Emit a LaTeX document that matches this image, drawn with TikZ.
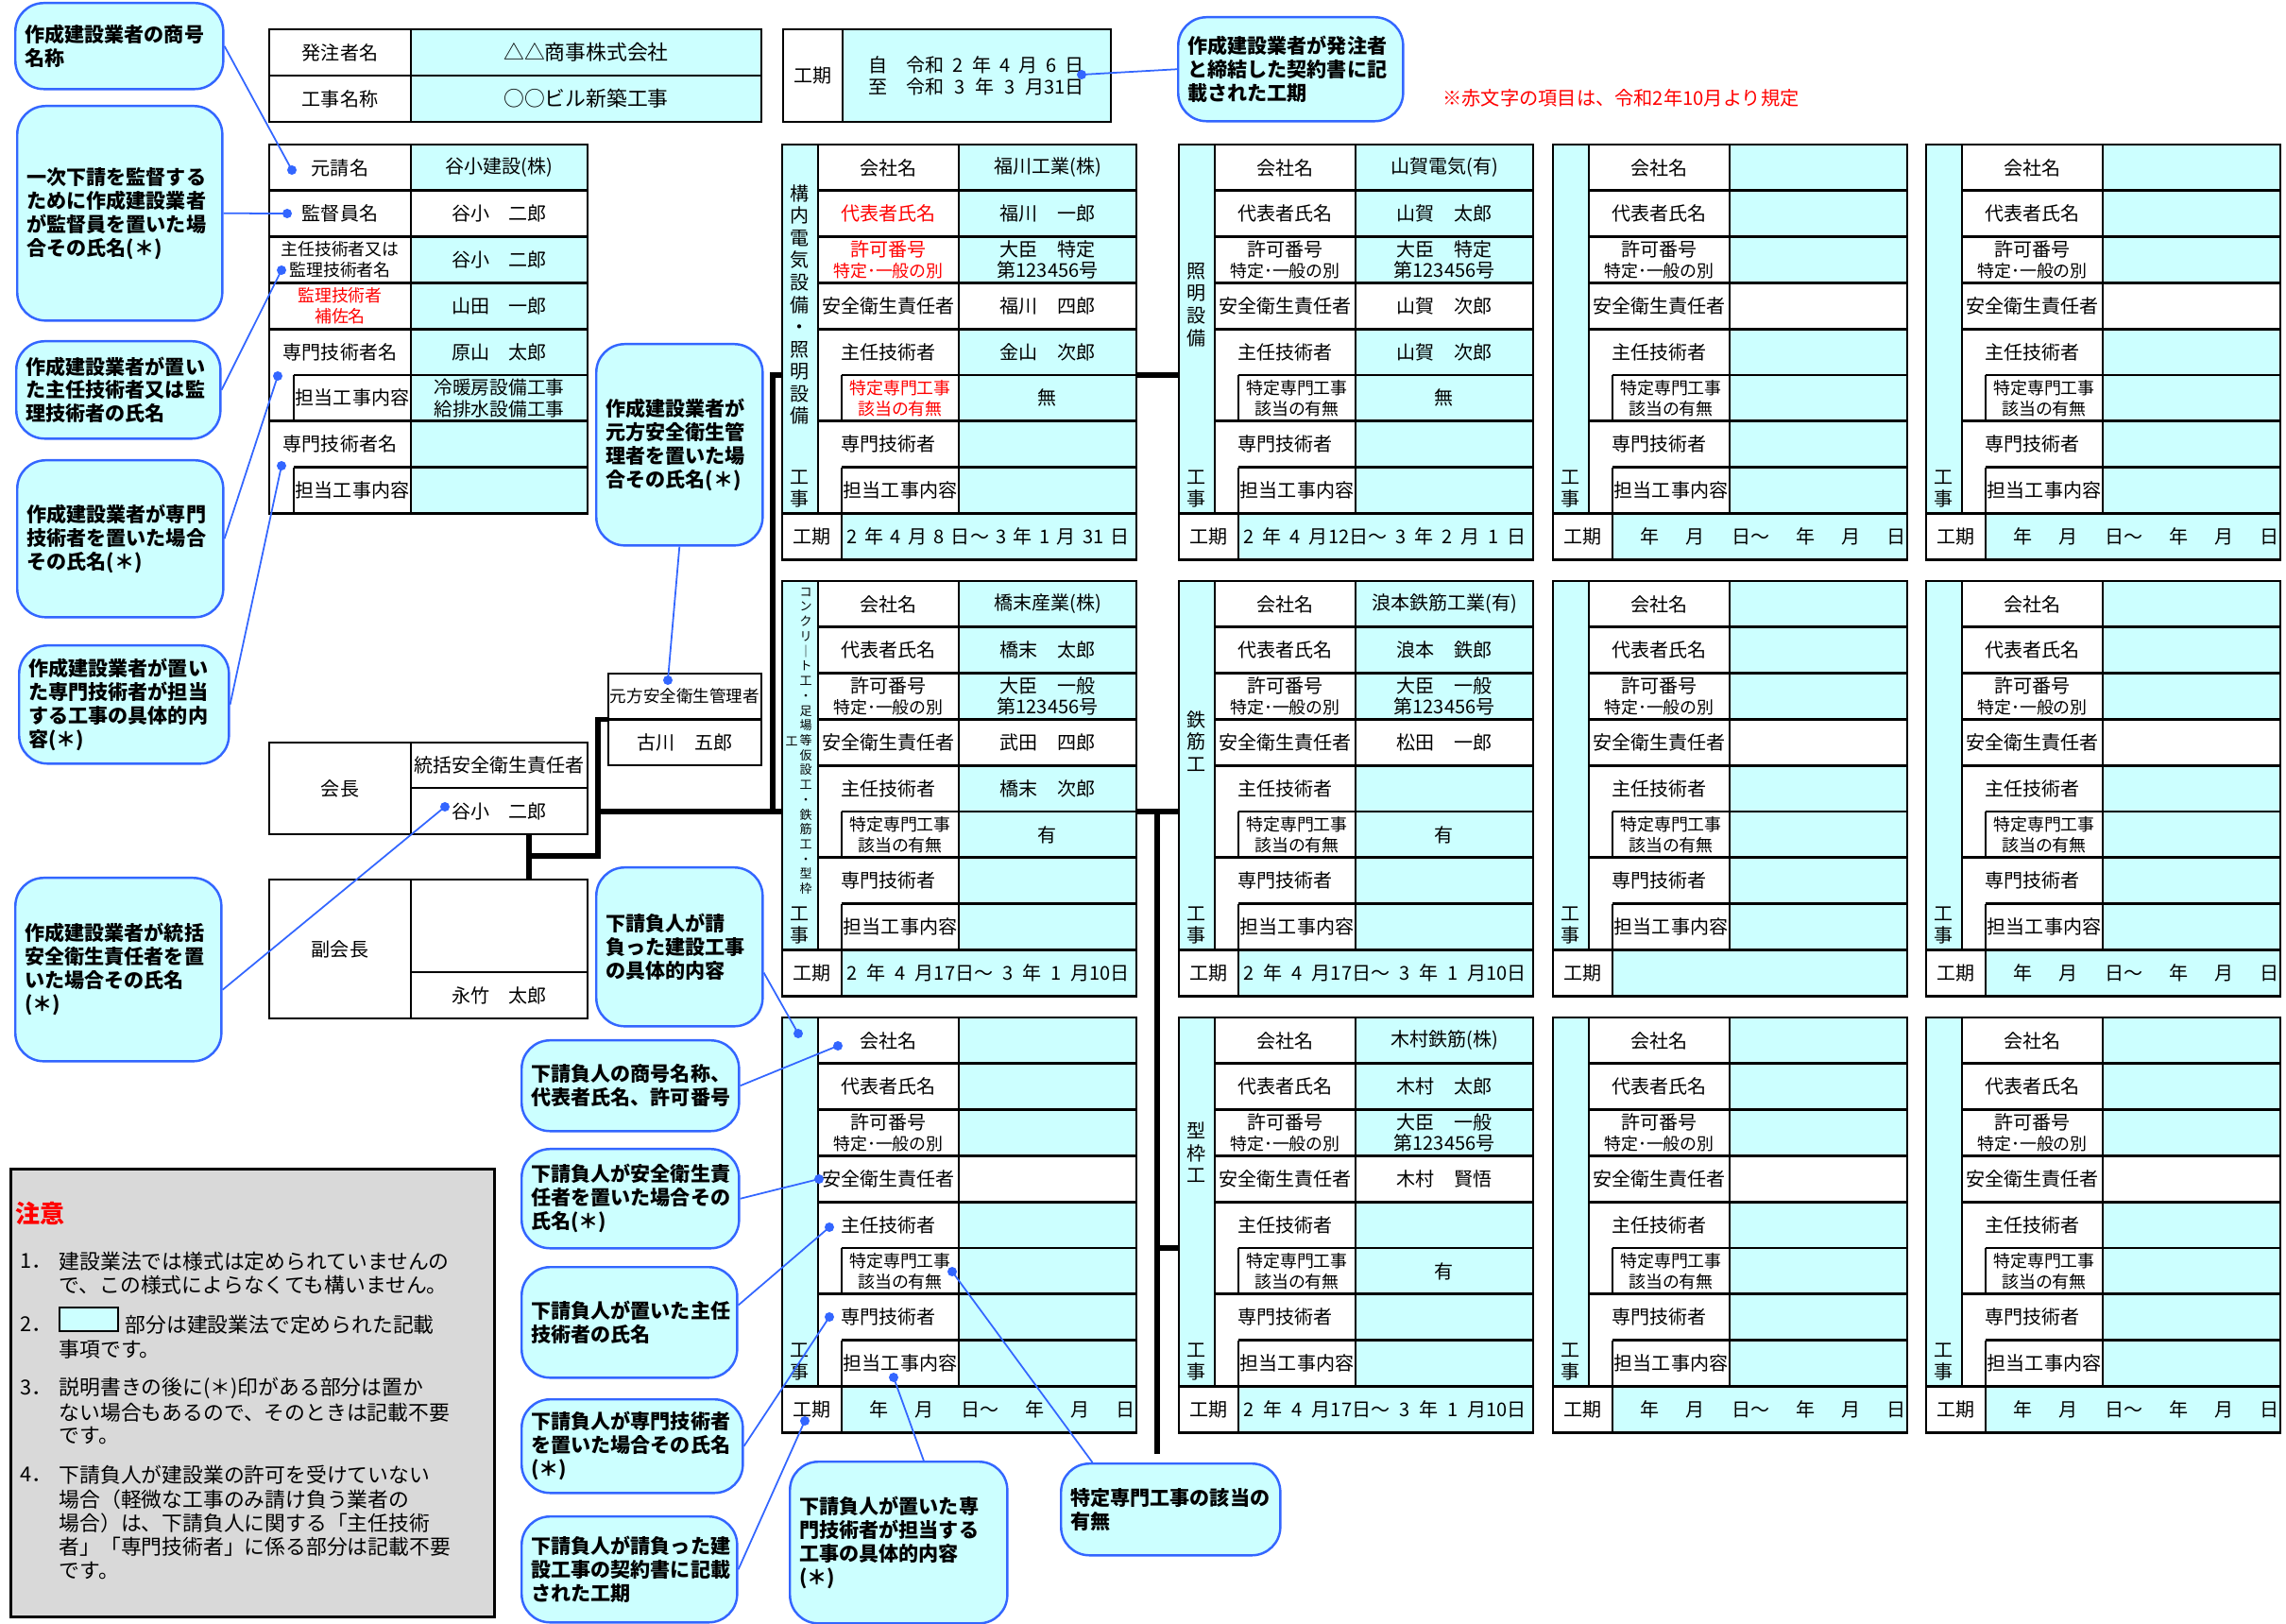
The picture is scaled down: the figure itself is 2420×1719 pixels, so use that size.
\documentclass[tikz,border=0pt]{standalone}
\usepackage{fontspec}
\setmainfont{Noto Sans CJK JP}
\usetikzlibrary{calc}
\definecolor{formCyan}{HTML}{CCFFFF}
\definecolor{formBlue}{HTML}{3366FF}
\definecolor{formRed}{HTML}{FF0000}
\definecolor{formGray}{HTML}{D9D9D9}

\begin{document}
\begin{tikzpicture}[x=0.01cm, y=-0.01cm,
    grid/.style={line width=0.8pt, black},
    conn/.style={line width=1.5pt, black},
    lab/.style={font=\fontsize{5.7}{6.2}\selectfont, inner sep=0pt, align=center},
    labsm/.style={font=\fontsize{5.1}{6.2}\selectfont, inner sep=0pt, align=center},
    val/.style={font=\fontsize{5.7}{6.2}\selectfont, inner sep=0pt, align=center},
    stripchar/.style={font=\fontsize{5.7}{6.7}\selectfont, inner sep=0pt, align=center},
    callout/.style={draw=formBlue, fill=formCyan, rounded corners=3mm, line width=0.7pt,
                    font=\bfseries\fontsize{6.0}{7.1}\selectfont, align=left,
                    anchor=north west, inner xsep=0.1cm, inner ysep=0pt},
    notetext/.style={font=\fontsize{6.2}{7.25}\selectfont, anchor=west, inner sep=0pt},
    lead/.style={formBlue, line width=0.5pt},
    dot/.style={circle, fill=formBlue, inner sep=0pt, minimum size=0.1cm}
  ]
  \useasboundingbox (0,0) rectangle (2420,1719);

  % client / project name
  \fill[formCyan] (435,31) rectangle (806,129);
  \draw[grid] (285,31) rectangle (806,129) (435,31) -- (435,129) (285,80) -- (806,80);
  \node[lab] (hl1) at (360,55.5) {発注者名};
  \node[lab] (hl2) at (360,104.5) {工事名称};
  \node[val, font=\fontsize{6.2}{7}\selectfont] (hv1) at (620.5,55.5) {△△商事株式会社};
  \node[val, font=\fontsize{6.2}{7}\selectfont] (hv2) at (620.5,104.5) {○○ビル新築工事};

  % contract period
  \fill[formCyan] (892,31) rectangle (1176,129);
  \draw[grid] (829,31) rectangle (1176,129) (892,31) -- (892,129);
  \node[lab] (kl) at (860.5,80) {工期};
  \node[lab, align=left, anchor=west, font=\fontsize{5.7}{6.5}\selectfont] (kv) at (919,80)
    {\makebox[2.28cm]{自\hspace{0.2cm}令和\hfill 2\hfill 年\hfill 4\hfill 月\hfill 6\hfill 日}\\
     \makebox[2.28cm]{至\hspace{0.2cm}令和\hfill 3\hfill 年\hfill 3\hfill 月31日}};

  \node[font=\fontsize{5.75}{7}\selectfont, text=formRed, inner sep=0pt] (rednote) at (1716,104)
    {※赤文字の項目は、令和2年10月より規定};

  % prime contractor table
  \begin{scope}[shift={(285,153)}]
    \fill[formCyan] (150,0) rectangle (337,48.8) (150,97.6) rectangle (337,390.4);
    \draw[grid] (0,0) rectangle (337,390.4) (150,0) -- (150,390.4)
      (0,48.8) -- (337,48.8) (0,97.6) -- (337,97.6) (0,146.4) -- (337,146.4)
      (0,195.2) -- (337,195.2) (26,244) -- (337,244) (0,292.8) -- (337,292.8)
      (26,341.6) -- (337,341.6) (26,244) -- (26,292.8) (26,341.6) -- (26,390.4);
    \node[lab] (mt-l1) at (75,24.4) {元請名};
    \node[lab] (mt-l2) at (75,73.2) {監督員名};
    \node[labsm] (mt-l3) at (75,122) {主任技術者又は\\監理技術者名};
    \node[labsm, text=formRed] (mt-l4) at (75,170.8) {監理技術者\\補佐名};
    \node[lab] (mt-l5) at (75,219.6) {専門技術者名};
    \node[lab] (mt-l6) at (88,268.4) {担当工事内容};
    \node[lab] (mt-l7) at (75,317.2) {専門技術者名};
    \node[lab] (mt-l8) at (88,366) {担当工事内容};
    \node[val] (mt-v1) at (243.5,24.4) {谷小建設(株)};
    \node[val] (mt-v2) at (243.5,73.2) {谷小　二郎};
    \node[val] (mt-v3) at (243.5,122) {谷小　二郎};
    \node[val] (mt-v4) at (243.5,170.8) {山田　一郎};
    \node[val] (mt-v5) at (243.5,219.6) {原山　太郎};
    \node[val, font=\fontsize{5.6}{6.5}\selectfont] (mt-v6) at (243.5,268.4) {冷暖房設備工事\\給排水設備工事};
  \end{scope}

  % subcontractor cards
  \foreach \nm/\cx/\cy/\lc in {s11/828/153/formRed, s12/1248/153/black, s13/1644/153/black, s14/2039/153/black,
      s21/828/615/black, s22/1248/615/black, s23/1644/615/black, s24/2039/615/black,
      s31/828/1077/black, s32/1248/1077/black, s33/1644/1077/black, s34/2039/1077/black}{
    \begin{scope}[shift={(\cx,\cy)}]
      \fill[formCyan] (0,0) rectangle (38,390.4);
      \fill[formCyan] (187,0) rectangle (375,146.4);
      \fill[formCyan] (187,195.2) rectangle (375,390.4);
      \fill[formCyan] (63,390.4) rectangle (375,439.2);
      \draw[grid] (0,0) rectangle (375,439.2)
        (38,0) -- (38,390.4) (187,0) -- (187,390.4) (63,390.4) -- (63,439.2)
        (38,48.8) -- (375,48.8) (38,97.6) -- (375,97.6) (38,146.4) -- (375,146.4)
        (38,195.2) -- (375,195.2) (63,244) -- (375,244) (38,292.8) -- (375,292.8)
        (63,341.6) -- (375,341.6) (0,390.4) -- (375,390.4)
        (63,244) -- (63,292.8) (63,341.6) -- (63,390.4);
      \node[lab] (\nm-l1) at (112.5,24.4) {会社名};
      \node[lab, text=\lc] (\nm-l2) at (112.5,73.2) {代表者氏名};
      \node[lab, text=\lc] (\nm-l3) at (112.5,122) {許可番号\\\fontsize{5.1}{6}\selectfont 特定･一般の別};
      \node[lab] (\nm-l4) at (112.5,170.8) {安全衛生責任者};
      \node[lab] (\nm-l5) at (112.5,219.6) {主任技術者};
      \node[labsm, text=\lc] (\nm-l6) at (125,268.4) {特定専門工事\\該当の有無};
      \node[lab] (\nm-l7) at (112.5,317.2) {専門技術者};
      \node[lab] (\nm-l8) at (125,366) {担当工事内容};
      \node[lab] (\nm-l9) at (31.5,414.8) {工期};
      \node[stripchar] (\nm-kj) at (19,364.5) {工\\事};
      \coordinate (\nm-w) at (0,244);
      \coordinate (\nm-e) at (375,244);
      \foreach \k/\ry in {1/24.4, 2/73.2, 3/122, 4/170.8, 5/219.6, 6/268.4}
        \coordinate (\nm-p\k) at (281,\ry);
      \coordinate (\nm-pk) at (68,414.8);
      \coordinate (\nm-pb) at (92,414.8);
      \coordinate (\nm-st) at (19,169.5);
    \end{scope}
  }

  % card entries
  \node[stripchar] (s11-sx) at (s11-st) {構\\内\\電\\気\\設\\備\\・\\照\\明\\設\\備};
  \node[val] (s11-v1) at (s11-p1) {福川工業(株)};
  \node[val] (s11-v2) at (s11-p2) {福川　一郎};
  \node[val] (s11-v3) at (s11-p3) {大臣　特定\\第123456号};
  \node[val] (s11-v4) at (s11-p4) {福川　四郎};
  \node[val] (s11-v5) at (s11-p5) {金山　次郎};
  \node[val] (s11-v6) at (s11-p6) {無};
  \node[lab, anchor=west] (s11-vk) at (s11-pk) {\makebox[2.99cm]{2\hfill 年\hfill 4\hfill 月\hfill 8\hfill 日～\hfill 3\hfill 年\hfill 1\hfill 月\hfill 31\hfill 日}};

  \node[stripchar] (s12-sx) at (s12-st) {照\\明\\設\\備};
  \node[val] (s12-v1) at (s12-p1) {山賀電気(有)};
  \node[val] (s12-v2) at (s12-p2) {山賀　太郎};
  \node[val] (s12-v3) at (s12-p3) {大臣　特定\\第123456号};
  \node[val] (s12-v4) at (s12-p4) {山賀　次郎};
  \node[val] (s12-v5) at (s12-p5) {山賀　次郎};
  \node[val] (s12-v6) at (s12-p6) {無};
  \node[lab, anchor=west] (s12-vk) at (s12-pk) {\makebox[2.99cm]{2\hfill 年\hfill 4\hfill 月12日～\hfill 3\hfill 年\hfill 2\hfill 月\hfill 1\hfill 日}};

  \node[stripchar, font=\fontsize{3.7}{4.47}\selectfont] (s21-sx) at ($(s21-st)+(6,0)$)
    {コ\\ン\\ク\\リ\\｜\\ト\\工\\・\\足\\場\\等\\仮\\設\\工\\・\\鉄\\筋\\工\\・\\型\\枠};
  \node[stripchar, font=\fontsize{3.7}{4.47}\selectfont] (s21-sy) at ($(s21-st)+(-9,0)$) {工};
  \node[val] (s21-v1) at (s21-p1) {橋末産業(株)};
  \node[val] (s21-v2) at (s21-p2) {橋末　太郎};
  \node[val] (s21-v3) at (s21-p3) {大臣　一般\\第123456号};
  \node[val] (s21-v4) at (s21-p4) {武田　四郎};
  \node[val] (s21-v5) at (s21-p5) {橋末　次郎};
  \node[val] (s21-v6) at (s21-p6) {有};
  \node[lab, anchor=west] (s21-vk) at (s21-pk) {\makebox[2.99cm]{2\hfill 年\hfill 4\hfill 月17日～\hfill 3\hfill 年\hfill 1\hfill 月10日}};

  \node[stripchar] (s22-sx) at (s22-st) {鉄\\筋\\工};
  \node[val] (s22-v1) at (s22-p1) {浪本鉄筋工業(有)};
  \node[val] (s22-v2) at (s22-p2) {浪本　鉄郎};
  \node[val] (s22-v3) at (s22-p3) {大臣　一般\\第123456号};
  \node[val] (s22-v4) at (s22-p4) {松田　一郎};
  \node[val] (s22-v6) at (s22-p6) {有};
  \node[lab, anchor=west] (s22-vk) at (s22-pk) {\makebox[2.99cm]{2\hfill 年\hfill 4\hfill 月17日～\hfill 3\hfill 年\hfill 1\hfill 月10日}};

  \node[stripchar] (s32-sx) at ($(s32-st)+(0,-26.5)$) {型\\枠\\工};
  \node[val] (s32-v1) at (s32-p1) {木村鉄筋(株)};
  \node[val] (s32-v2) at (s32-p2) {木村　太郎};
  \node[val] (s32-v3) at (s32-p3) {大臣　一般\\第123456号};
  \node[val] (s32-v4) at (s32-p4) {木村　賢悟};
  \node[val] (s32-v6) at (s32-p6) {有};
  \node[lab, anchor=west] (s32-vk) at (s32-pk) {\makebox[2.99cm]{2\hfill 年\hfill 4\hfill 月17日～\hfill 3\hfill 年\hfill 1\hfill 月10日}};

  \foreach \nm in {s13, s14, s24, s31, s33, s34}
    \node[lab, anchor=west] (\nm-vb) at (\nm-pb) {\makebox[2.81cm]{年\hfill 月\hfill 日～\hfill 年\hfill 月\hfill 日}};

  % chairman tables
  \draw[grid] (285,786) rectangle (622,883) (435,786) -- (435,883) (435,834) -- (622,834);
  \node[lab] (kc-l) at (360,834.5) {会長};
  \node[lab] (kc-t) at (528.5,810) {統括安全衛生責任者};
  \node[lab] (kc-n) at (528.5,858.5) {谷小　二郎};
  \coordinate (kc-j) at (560,883);
  \draw[grid] (285,931) rectangle (622,1078) (435,931) -- (435,1078) (435,1029) -- (622,1029);
  \node[lab] (fk-l) at (360,1004.5) {副会長};
  \node[lab] (fk-n) at (528.5,1053.5) {永竹　太郎};
  \coordinate (fk-j) at (560,931);

  \node[draw, line width=0.8pt, minimum width=1.62cm, minimum height=0.97cm, inner sep=0pt] (gen) at (725,761.5) {};
  \draw[grid] (gen.west) -- (gen.east);
  \node[labsm, font=\fontsize{5.0}{6}\selectfont] (gen-t) at (725,737) {元方安全衛生管理者};
  \node[lab] (gen-n) at (725,785.5) {古川　五郎};

  % organisation lines
  \coordinate (trunk) at (818,859);
  \coordinate (jn1) at (560,906);
  \coordinate (jn2) at (633,906);
  \coordinate (drop) at (1225,1539);
  \draw[conn] (s11-w) -- (s11-w -| trunk) -- (trunk) -- (s21-w);
  \draw[conn] (s11-e) -- (s12-w);
  \draw[conn] (s21-e) -- (s22-w);
  \draw[conn] (s21-e -| drop) -- (drop);
  \draw[conn] (s32-w -| drop) -- (s32-w);
  \draw[conn] (trunk) -- (trunk -| jn2);
  \draw[conn] (kc-j) -- (fk-j);
  \draw[conn] (jn1) -- (jn2) -- (jn2 |- gen.west) -- (gen.west);

  % explanation boxes
  \node[callout, minimum width=2.38cm, minimum height=1.10cm, text width=2.18cm] (co0) at (1246,17) {作成建設業者が発注者\\と締結した契約書に記\\載された工期};
  \node[callout, minimum width=2.20cm, minimum height=0.91cm, text width=2.00cm] (co1) at (15,2) {作成建設業者の商号\\名称};
  \node[callout, minimum width=2.17cm, minimum height=2.27cm, text width=1.97cm] (co2) at (17,111) {一次下請を監督する\\ために作成建設業者\\が監督員を置いた場\\合その氏名(＊)};
  \node[callout, minimum width=2.16cm, minimum height=1.03cm, text width=1.96cm] (co3) at (16,360) {作成建設業者が置い\\た主任技術者又は監\\理技術者の氏名};
  \node[callout, minimum width=2.18cm, minimum height=1.66cm, text width=1.98cm] (co4) at (17,486) {作成建設業者が専門\\技術者を置いた場合\\その氏名(＊)};
  \node[callout, minimum width=2.22cm, minimum height=1.25cm, text width=2.02cm] (co5) at (19,682) {作成建設業者が置い\\た専門技術者が担当\\する工事の具体的内\\容(＊)};
  \node[callout, minimum width=2.18cm, minimum height=1.94cm, text width=1.98cm] (co6) at (15,928) {作成建設業者が統括\\安全衛生責任者を置\\いた場合その氏名\\(＊)};
  \node[callout, minimum width=1.76cm, minimum height=2.13cm, text width=1.56cm] (co7) at (630,363) {作成建設業者が\\元方安全衛生管\\理者を置いた場\\合その氏名(＊)};
  \node[callout, minimum width=1.76cm, minimum height=1.68cm, text width=1.56cm] (co8) at (630,917) {下請負人が請\\負った建設工事\\の具体的内容};
  \node[callout, minimum width=2.30cm, minimum height=0.96cm, text width=2.10cm] (co9) at (551,1100) {下請負人の商号名称、\\代表者氏名、許可番号};
  \node[callout, minimum width=2.30cm, minimum height=1.05cm, text width=2.10cm] (co10) at (551,1215) {下請負人が安全衛生責\\任者を置いた場合その\\氏名(＊)};
  \node[callout, minimum width=2.28cm, minimum height=1.17cm, text width=2.08cm] (co11) at (551,1340) {下請負人が置いた主任\\技術者の氏名};
  \node[callout, minimum width=2.34cm, minimum height=0.99cm, text width=2.14cm] (co12) at (551,1480) {下請負人が専門技術者\\を置いた場合その氏名\\(＊)};
  \node[callout, minimum width=2.28cm, minimum height=1.12cm, text width=2.08cm] (co13) at (551,1604) {下請負人が請負った建\\設工事の契約書に記載\\された工期};
  \node[callout, minimum width=2.30cm, minimum height=1.71cm, text width=2.10cm] (co14) at (835,1546) {下請負人が置いた専\\門技術者が担当する\\工事の具体的内容\\(＊)};
  \node[callout, minimum width=2.32cm, minimum height=0.97cm, text width=2.12cm] (co15) at (1122,1548) {特定専門工事の該当の\\有無};

  % notes
  \node[draw, fill=formGray, line width=0.8pt, anchor=north west, minimum width=5.12cm,
        minimum height=4.74cm, inner sep=0pt] (note) at (10,1236) {};
  \node[anchor=west, text=formRed, font=\bfseries\fontsize{7.4}{8}\selectfont, inner sep=0pt] (nt0) at (16,1284) {注意};
  \foreach \nn/\ny in {1/1335, 2/1402, 3/1469, 4/1561}
    \node[notetext] (num\nn) at (21,\ny) {\nn．};
  \node[draw, fill=formCyan, line width=0.6pt, anchor=north west, minimum width=0.62cm,
        minimum height=0.25cm, inner sep=0pt] (smp) at (62,1383) {};
  \node[notetext] (nl2a) at (132,1402) {部分は建設業法で定められた記載};
  \foreach \nn/\ny/\nt in {1a/1335/建設業法では様式は定められていませんの, 1b/1360/で、この様式によらなくても構いません。,
      2b/1428/事項です。,
      3a/1469/説明書きの後に(＊)印がある部分は置か, 3b/1495/ない場合もあるので、そのときは記載不要, 3c/1520/です。,
      4a/1561/下請負人が建設業の許可を受けていない, 4b/1587/場合（軽微な工事のみ請け負う業者の,
      4c/1612/場合）は、下請負人に関する「主任技術, 4d/1637/者」「専門技術者」に係る部分は記載不要, 4e/1663/です。}
    \node[notetext] (nl\nn) at (62,\ny) {\nt};

  % pointers
  \foreach \p/\px/\py in {pt0/1145/79, pt1/309/180, pt2/304/226, pt3/298/286, pt4/294/398, pt5/298/493,
      pt6/471/854, pt7/707/720, pt8/845/1094, pt9/887/1107, pt10/867/1248, pt11/878/1299,
      pt12/878/1394, pt13/852/1504, pt14/946/1458, pt15/1008/1346}
    \node[dot] (\p) at (\px,\py) {};
  \foreach \c/\p in {co0.west/pt0, co1.east/pt1, co2.east/pt2, co3.east/pt3, co4.east/pt4, co5.east/pt5,
      co6.-11/pt6, co7.south/pt7, co8.-17/pt8, co9.east/pt9, co10.east/pt10, co11.9/pt11,
      co12.east/pt12, co13.east/pt13, co14.73/pt14, co15.149/pt15}
    \draw[lead] (\c) -- (\p.center);
\end{tikzpicture}
\end{document}
